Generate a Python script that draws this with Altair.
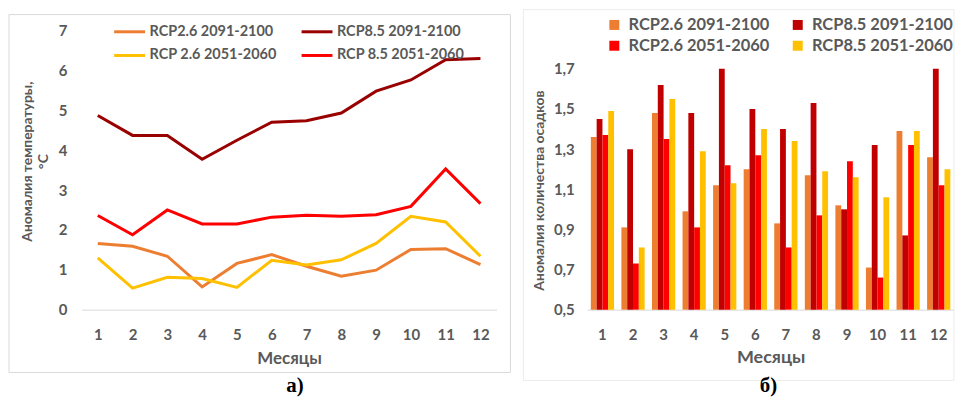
import altair as alt
import pandas as pd

FONT = "Lato"
GREY = "#595959"

months = list(range(1, 13))

# --- Panel a): temperature anomaly ---
line_series = ["RCP2.6 2091-2100", "RCP8.5 2091-2100", "RCP 2.6 2051-2060", "RCP 8.5 2051-2060"]
line_colors = ["#ED7D31", "#990000", "#FFC000", "#FF0000"]
t26_2091 = [1.66, 1.59, 1.34, 0.57, 1.16, 1.38, 1.09, 0.84, 0.99, 1.51, 1.53, 1.13]
t85_2091 = [4.87, 4.37, 4.37, 3.77, 4.25, 4.70, 4.74, 4.93, 5.48, 5.76, 6.27, 6.30]
t26_2051 = [1.30, 0.54, 0.81, 0.78, 0.56, 1.24, 1.12, 1.25, 1.66, 2.34, 2.20, 1.34]
t85_2051 = [2.36, 1.88, 2.50, 2.15, 2.15, 2.32, 2.37, 2.34, 2.38, 2.59, 3.53, 2.66]
temp_ticks = [0, 1, 2, 3, 4, 5, 6, 7]

# --- Panel б): precipitation anomaly ---
bar_series = ["RCP2.6 2091-2100", "RCP8.5 2091-2100", "RCP2.6 2051-2060", "RCP8.5 2051-2060"]
bar_colors = ["#ED7D31", "#C00000", "#FF0000", "#FFC000"]
p26_2091 = [1.36, 0.91, 1.48, 0.99, 1.12, 1.20, 0.93, 1.17, 1.02, 0.71, 1.39, 1.26]
p85_2091 = [1.45, 1.30, 1.62, 1.48, 1.70, 1.50, 1.40, 1.53, 1.00, 1.32, 0.87, 1.70]
p26_2051 = [1.37, 0.73, 1.35, 0.91, 1.22, 1.27, 0.81, 0.97, 1.24, 0.66, 1.32, 1.12]
p85_2051 = [1.49, 0.81, 1.55, 1.29, 1.13, 1.40, 1.34, 1.19, 1.16, 1.06, 1.39, 1.20]
prec_ticks = [0.5, 0.7, 0.9, 1.1, 1.3, 1.5, 1.7]

rows = []
for s, vals in zip(line_series, [t26_2091, t85_2091, t26_2051, t85_2051]):
    for m, v in zip(months, vals):
        rows.append({"month": m, "series": s, "value": v})
tdf = pd.DataFrame(rows)

rows = []
for s, vals in zip(bar_series, [p26_2091, p85_2091, p26_2051, p85_2051]):
    for m, v in zip(months, vals):
        rows.append({"month": m, "series": s, "value": v})
pdf = pd.DataFrame(rows)

# legend lists are filled column by column: reorder so rows read as in the original
def legend_order(lst):
    return [lst[0], lst[2], lst[1], lst[3]]

line_leg = legend_order(line_series)
line_leg_colors = legend_order(line_colors)
bar_leg = legend_order(bar_series)
bar_leg_colors = legend_order(bar_colors)

dummy = pd.DataFrame({"a": [0]})

# ---------------- Left panel ----------------
LW, LH = 416, 280
left_border = alt.Chart(dummy).mark_rect(fill="transparent", stroke="#d9d9d9", strokeWidth=1).encode(
    x=alt.value(-73), x2=alt.value(430), y=alt.value(-16), y2=alt.value(343))
left_spacer = alt.Chart(dummy).mark_rule(opacity=0).encode(
    x=alt.value(0), x2=alt.value(5), y=alt.value(-21))
lines = alt.Chart(tdf).mark_line(strokeWidth=3).encode(
    x=alt.X("month:O", scale=alt.Scale(type="point", padding=0.46),
            axis=alt.Axis(title="Месяцы", labelAngle=0, ticks=False, domainColor="#d9d9d9",
                          labelFontSize=15, labelPadding=18, titleFontSize=17, titlePadding=8)),
    y=alt.Y("value:Q", scale=alt.Scale(domain=[0, 7], nice=False),
            axis=alt.Axis(values=temp_ticks, title=["Аномалия температуры,", "°C"], grid=False,
                          domain=False, ticks=False, labelFontSize=15, labelPadding=15,
                          titleFontSize=14, titlePadding=8, titleY=131)),
    color=alt.Color("series:N", sort=line_leg,
                    scale=alt.Scale(domain=line_leg, range=line_leg_colors),
                    legend=alt.Legend(title=None, orient="none", legendX=31, legendY=-16, columns=2,
                                      symbolType="stroke", symbolSize=961, symbolStrokeWidth=3,
                                      labelFontSize=14.5, labelOffset=3, columnPadding=18, rowPadding=-10)),
)
label_a = alt.Chart(dummy).mark_text(text="а)", font="Liberation Serif", fontWeight="bold",
                                     fontSize=21, color="black").encode(
    x=alt.value(214), y=alt.value(357))
left = alt.layer(left_border, left_spacer, lines, label_a).properties(width=LW, height=LH)

# ---------------- Right panel ----------------
RW, RH = 368, 280
right_border = alt.Chart(dummy).mark_rect(fill="transparent", stroke="#ececec", strokeWidth=1).encode(
    x=alt.value(-64), x2=alt.value(368), y=alt.value(-21), y2=alt.value(351))
bars = alt.Chart(pdf).mark_bar().encode(
    x=alt.X("month:O", scale=alt.Scale(paddingInner=0.24, paddingOuter=0.12),
            axis=alt.Axis(title="Месяцы", labelAngle=0, ticks=False, domainColor="#d9d9d9",
                          labelFontSize=15, labelPadding=18, titleFontSize=18, titlePadding=6)),
    xOffset=alt.XOffset("series:N", sort=bar_series,
                        scale=alt.Scale(domain=bar_series, paddingInner=0, paddingOuter=0)),
    y=alt.Y("value:Q", scale=alt.Scale(domain=[0.5, 1.891], zero=False, nice=False),
            axis=alt.Axis(values=prec_ticks, title="Аномалия количества осадков", grid=False,
                          domain=False, ticks=False, labelFontSize=15, labelPadding=13,
                          labelExpr="replace(format(datum.value, '.1f'), '.', ',')",
                          titleFontSize=14, titlePadding=7, titleY=160)),
    y2=alt.datum(0.5),
    color=alt.Color("series:N", sort=bar_leg,
                    scale=alt.Scale(domain=bar_leg, range=bar_leg_colors),
                    legend=alt.Legend(title=None, orient="none", legendX=19, legendY=-14, columns=2,
                                      symbolType="square", symbolSize=100, symbolStrokeWidth=0,
                                      labelFontSize=16.5, labelOffset=6, columnPadding=20, rowPadding=4)),
)
label_b = alt.Chart(dummy).mark_text(text="б)", font="Liberation Serif", fontWeight="bold",
                                     fontSize=21, color="black").encode(
    x=alt.value(182), y=alt.value(357))
right = alt.layer(right_border, bars, label_b).properties(width=RW, height=RH).resolve_scale(color="independent")

chart = alt.hconcat(left, right, spacing=11).resolve_scale(color="independent").properties(padding=0).configure_view(
    strokeWidth=0
).configure_axis(
    labelFont=FONT, titleFont=FONT, labelColor=GREY, titleColor=GREY,
    labelFontWeight="bold", titleFontWeight="bold"
).configure_legend(
    labelFont=FONT, labelColor=GREY, labelFontWeight="bold"
)

chart.save("out.html", embed_options={"renderer": "svg", "actions": False})
